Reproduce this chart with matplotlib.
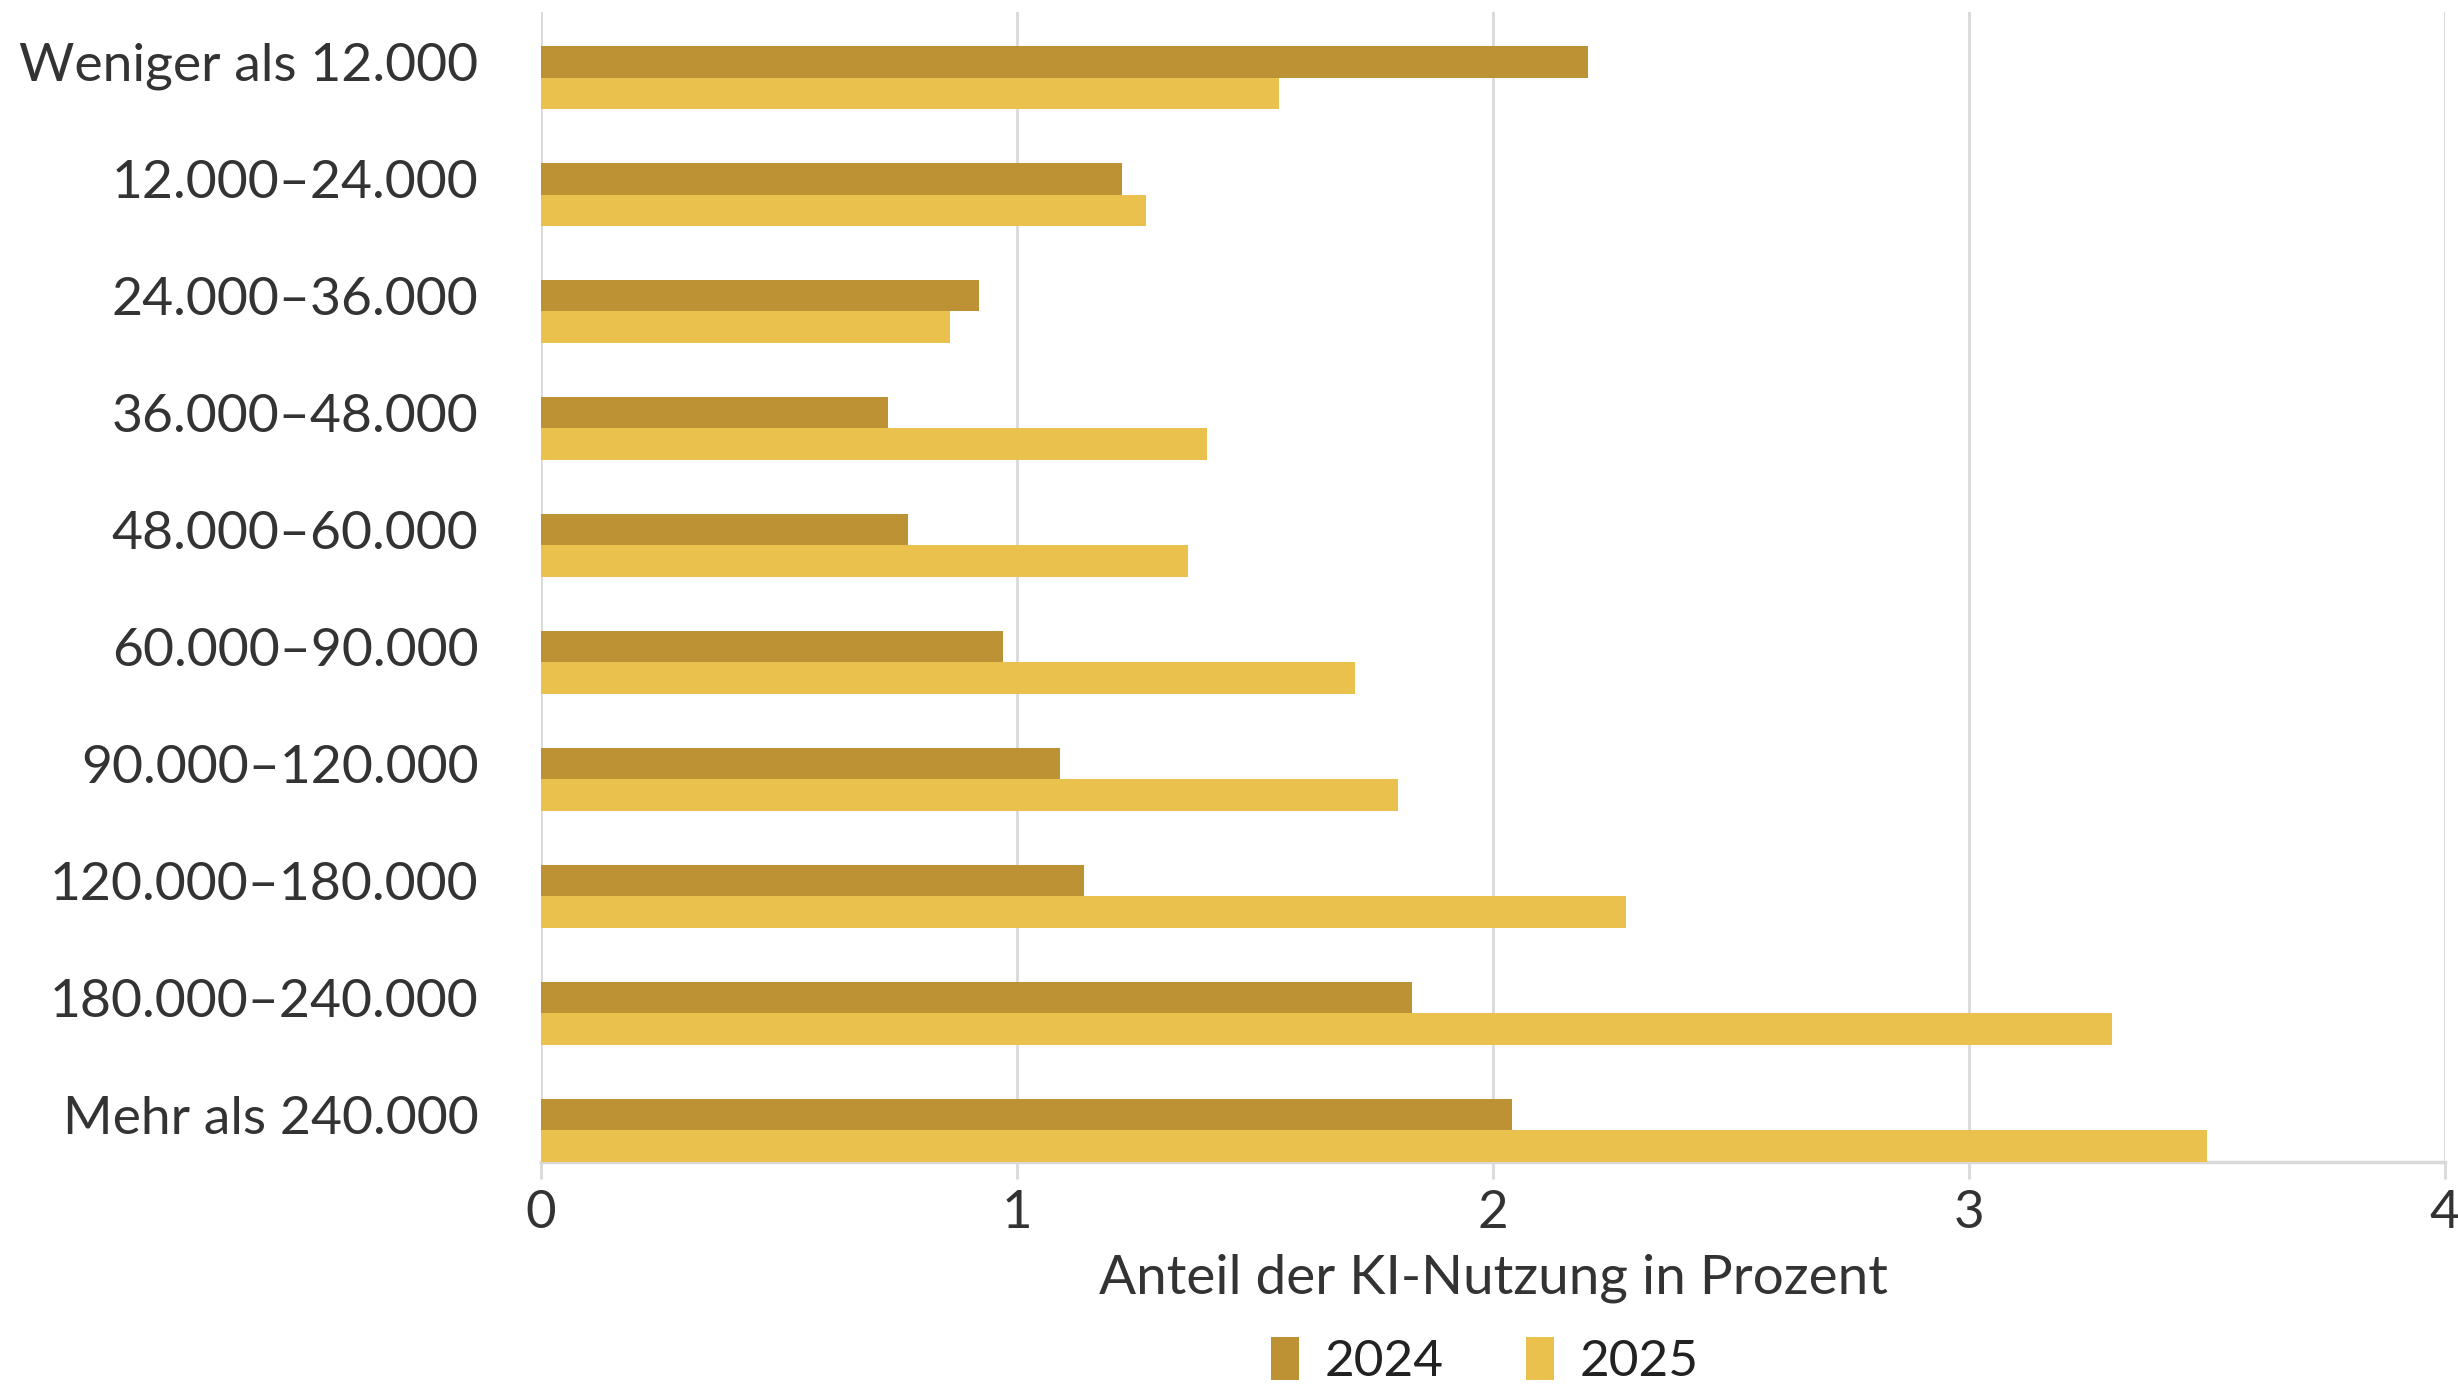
import numpy as np
import matplotlib.pyplot as plt

# Einkommensklassen (Euro) und Anteil der KI-Nutzung in Prozent
categories = ["Weniger als 12.000", "12.000–24.000", "24.000–36.000", "36.000–48.000",
              "48.000–60.000", "60.000–90.000", "90.000–120.000", "120.000–180.000",
              "180.000–240.000", "Mehr als 240.000"]
values_2024 = [2.20, 1.22, 0.92, 0.73, 0.77, 0.97, 1.09, 1.14, 1.83, 2.04]
values_2025 = [1.55, 1.27, 0.86, 1.40, 1.36, 1.71, 1.80, 2.28, 3.30, 3.50]
xticks = [0, 1, 2, 3, 4]

plt.rcParams['font.family'] = ['Lato', 'DejaVu Sans']

fig = plt.figure(figsize=(24.58, 13.86), dpi=100)
ax = fig.add_axes([541 / 2458, 1 - 1162 / 1386, (2445 - 541) / 2458, (1162 - 12) / 1386])

y = np.arange(len(categories))
h = 0.268
ax.barh(y - h / 2, values_2024, height=h, color="#BC9235", label="2024", zorder=3)
ax.barh(y + h / 2, values_2025, height=h, color="#EBC14D", label="2025", zorder=3)

ax.set_ylim(len(categories) - 1 + 0.27, -0.56)
ax.set_xlim(0, 4)
ax.set_xticks(xticks)
ax.set_xticklabels([str(t) for t in xticks])
# labels sit level with the 2024 bar
ax.set_yticks(y - h / 2)
ax.set_yticklabels(categories)

ax.grid(axis="x", color="#d9d9d9", linewidth=2, zorder=0)
for s in ["top", "right", "left"]:
    ax.spines[s].set_visible(False)
ax.spines["bottom"].set_color("#d9d9d9")
ax.spines["bottom"].set_linewidth(2.5)

ax.tick_params(axis="y", length=0, pad=45, labelsize=38.5, labelcolor="#333333")
ax.tick_params(axis="x", length=12, width=2, color="#d9d9d9", pad=8,
               labelsize=38, labelcolor="#333333")

ax.set_xlabel("Anteil der KI-Nutzung in Prozent", fontsize=39.5, color="#333333", labelpad=12)

fig.legend(*ax.get_legend_handles_labels(), loc="center", bbox_to_anchor=(0.604, 0.018),
           ncol=2, frameon=False, fontsize=37, handlelength=0.55, handleheight=0.9,
           handletextpad=0.5, columnspacing=1.6, labelcolor="#222222",
           borderpad=0.0, borderaxespad=0.0)

fig.savefig("out.png", dpi=100, facecolor="white")
